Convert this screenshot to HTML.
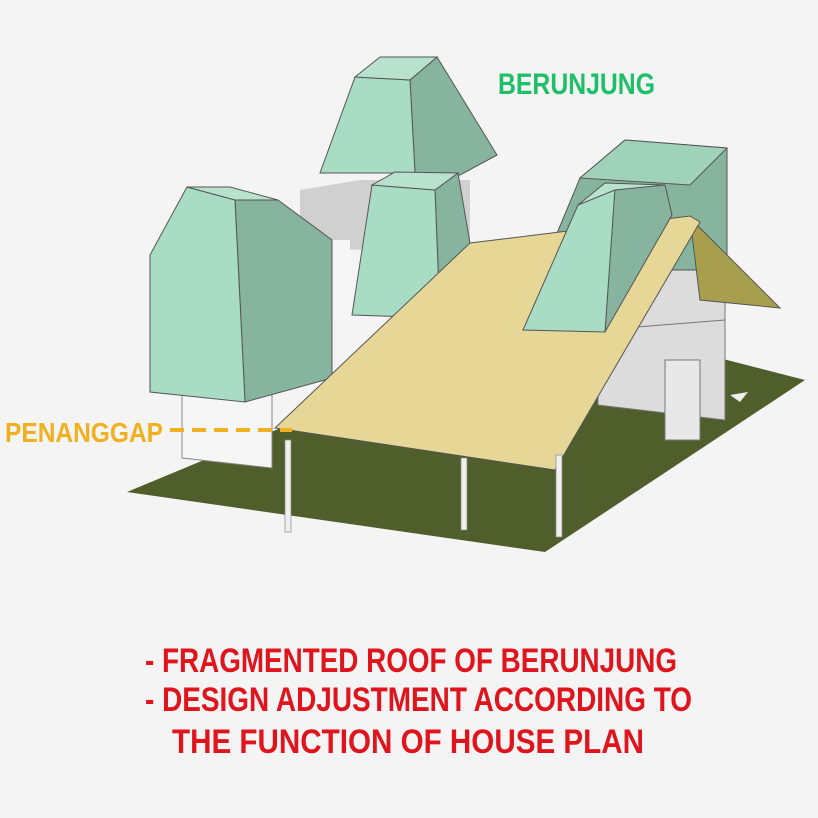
<!DOCTYPE html>
<html><head><meta charset="utf-8"><style>
html,body{margin:0;padding:0;background:#f4f4f4}
svg{display:block}
</style></head><body>
<svg width="818" height="818" viewBox="0 0 818 818" xmlns="http://www.w3.org/2000/svg">
<rect width="818" height="818" fill="#f4f4f4"/>
<polygon points="127,492 545,552 805,380 610,330 300,420" fill="#4f5e2a"/>
<polygon points="730,395 748,392 740,402" fill="#eee"/>
<polygon points="300,190 360,180 470,180 470,245 340,250 300,240" fill="#d0d0d0"/>
<polygon points="598,230 725,225 725,420 598,405" fill="#dcdcdc" stroke="#777" stroke-width="1"/>
<line x1="598" y1="330" x2="725" y2="320" stroke="#777"/>
<polygon points="665,360 700,360 700,440 665,440" fill="#e8e8e8" stroke="#777"/>
<polygon points="182,395 272,395 272,468 182,458" fill="#f6f6f6" stroke="#888"/>
<polygon points="330,240 350,240 350,320 330,320" fill="#f6f6f6"/>
<polygon points="235,200 278,200 332,240 332,378 245,402" fill="#86b49f" stroke="#555" stroke-width="1"/>
<polygon points="150,255 187,187 235,200 245,402 150,392" fill="#a9dcc4" stroke="#555" stroke-width="1"/>
<polygon points="187,187 235,200 278,200 230,187" fill="#b8e2cd" stroke="#555" stroke-width="1"/>
<polygon points="410,80 437,57 497,155 460,175 415,173" fill="#86b49f" stroke="#555"/>
<polygon points="320,173 355,77 410,80 415,173" fill="#a9dcc4" stroke="#555"/>
<polygon points="355,77 380,57 437,57 410,80" fill="#b8e2cd" stroke="#555"/>
<polygon points="435,190 458,173 472,255 440,318" fill="#86b49f" stroke="#555"/>
<polygon points="352,315 372,185 435,190 440,318" fill="#a9dcc4" stroke="#555"/>
<polygon points="372,185 395,172 458,173 435,190" fill="#b8e2cd" stroke="#555"/>
<polygon points="550,250 580,178 625,140 727,148 727,270 620,270" fill="#86b49f" stroke="#555"/>
<polygon points="580,178 625,140 727,148 690,185" fill="#a0d2ba" stroke="#555"/>
<polygon points="690,218 780,308 700,300" fill="#a89f4e" stroke="#555"/>
<polygon points="275,428 555,470 700,222 690,216 470,243" fill="#e6d797" stroke="#555"/>
<polygon points="615,185 665,185 672,215 605,332" fill="#86b49f" stroke="#555"/>
<polygon points="523,330 578,205 615,188 605,332" fill="#a9dcc4" stroke="#555"/>
<polygon points="578,205 605,183 665,185 615,190" fill="#b8e2cd" stroke="#555"/>
<rect x="285" y="440" width="6" height="92" fill="#f0f0f0" stroke="#888" stroke-width="0.7"/>
<rect x="461" y="458" width="6" height="72" fill="#f0f0f0" stroke="#888" stroke-width="0.7"/>
<rect x="556" y="455" width="6" height="82" fill="#f0f0f0" stroke="#888" stroke-width="0.7"/>
<text x="498" y="94" font-family="Liberation Sans, sans-serif" font-weight="bold" font-size="30" fill="#1fbf6a" textLength="157" lengthAdjust="spacingAndGlyphs">BERUNJUNG</text>
<text x="5" y="442" font-family="Liberation Sans, sans-serif" font-weight="bold" font-size="28" fill="#f0b020" textLength="158" lengthAdjust="spacingAndGlyphs">PENANGGAP</text>
<line x1="170" y1="430" x2="292" y2="430" stroke="#f0b020" stroke-width="4" stroke-dasharray="14,8"/>
<g font-family="Liberation Sans, sans-serif" font-weight="bold" font-size="34" fill="#e0141c">
<text x="145" y="672" textLength="532" lengthAdjust="spacingAndGlyphs">- FRAGMENTED ROOF OF BERUNJUNG</text>
<text x="145" y="711" textLength="547" lengthAdjust="spacingAndGlyphs">- DESIGN ADJUSTMENT ACCORDING TO</text>
<text x="172" y="753" textLength="472" lengthAdjust="spacingAndGlyphs">THE FUNCTION OF HOUSE PLAN</text>
</g>
</svg>
</body></html>
